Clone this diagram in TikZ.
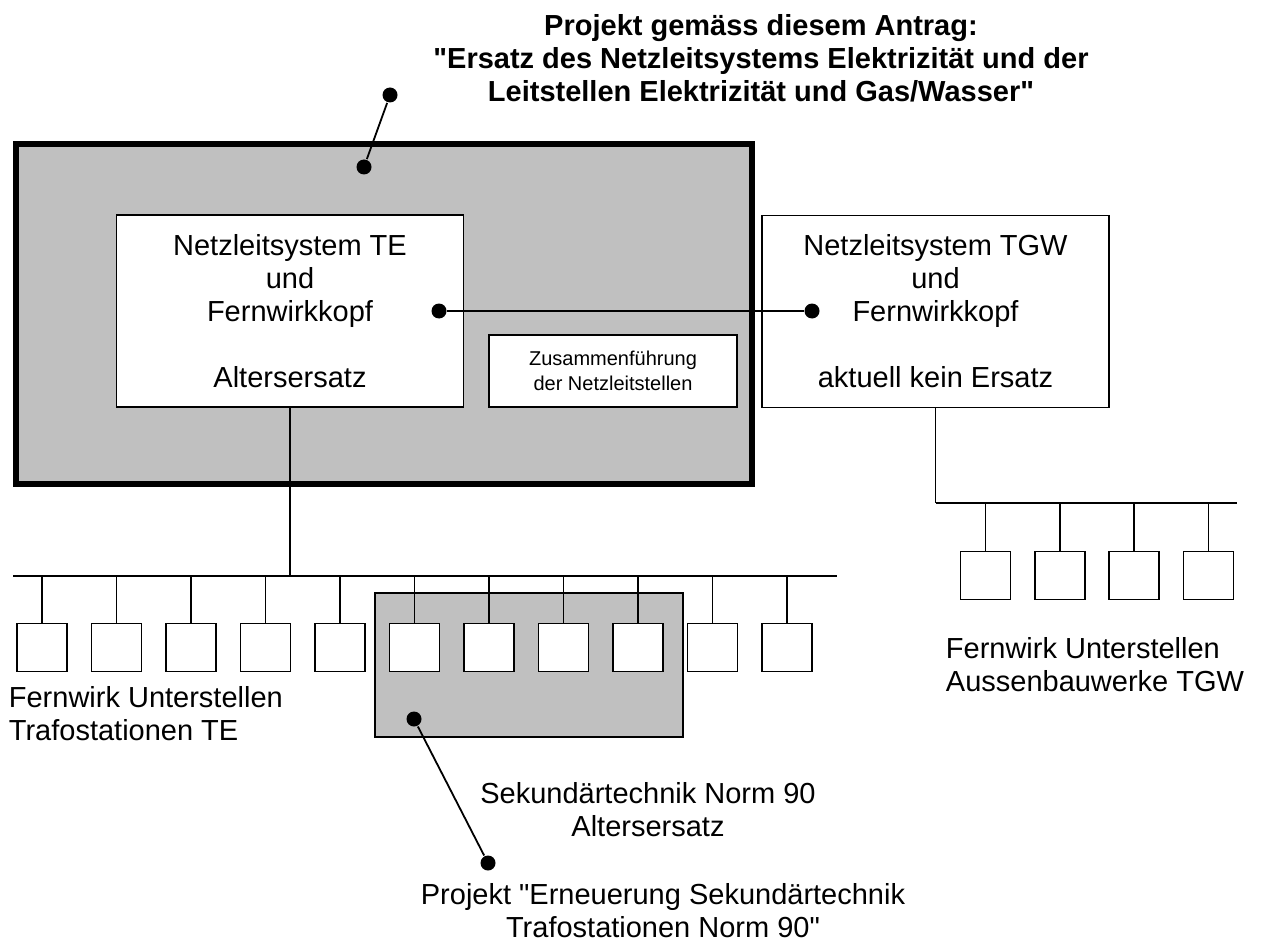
\documentclass[tikz,border=0pt]{standalone}
\usepackage{fontspec}
\setmainfont{Liberation Sans}
\usetikzlibrary{calc}
\definecolor{panelgray}{RGB}{192,192,192}

\begin{document}
\begin{tikzpicture}[x=0.5pt, y=-0.5pt, line width=0.9pt,
    txt/.style={font=\fontsize{14.5}{16.5}\selectfont, align=center, inner sep=0pt},
    smalltxt/.style={font=\fontsize{10}{12.5}\selectfont, align=center, inner sep=0pt},
    sysbox/.style={draw, fill=white, inner sep=0pt, minimum width=173.5pt, minimum height=96pt},
    station/.style={draw, fill=white, inner sep=0pt, minimum width=25pt, minimum height=24pt},
    pin/.style={circle, fill=black, inner sep=0pt, minimum size=7.5pt}]
    \useasboundingbox[fill=white] (0,0) rectangle (1263,941);

    % the grey panels
    \filldraw[fill=panelgray, line width=3pt] (16,144) rectangle (752,484);
    \filldraw[fill=panelgray] (375,593) rectangle (683,737);

    % the buses (drawn first, the boxes go on top)
    \coordinate (busTE) at (13,576);
    \coordinate (busTEend) at (837,576);
    \draw[line width=1.1pt] (busTE) -- (busTEend);
    \coordinate (busTGW) at (935.5,503);
    \coordinate (busTGWend) at (1237,503);

    % the control systems
    \node[sysbox, txt] (te) at (290,311) {Netzleitsystem TE\\und\\Fernwirkkopf\\[16.5pt]Altersersatz};
    \node[sysbox, txt] (tgw) at (935.5,311.5) {Netzleitsystem TGW\\und\\Fernwirkkopf\\[16.5pt]aktuell kein Ersatz};
    \node[draw, fill=white, smalltxt, minimum width=124pt, minimum height=36pt] (merge) at (613,371) {Zusammenführung\\der Netzleitstellen};

    \draw (te.south) -- (te.south |- busTE);
    \draw (tgw.south) -- (busTGW);
    \draw[line width=1.1pt] (busTGW) -- (busTGWend);

    % the stations (11 for TE, 4 for TGW)
    \foreach \i in {0,...,10} {
        \node[station] (s\i) at ({42+74.5*\i},647.5) {};
        \draw (s\i.north) -- (s\i.north |- busTE);
    }
    \foreach \i in {0,...,3} {
        \node[station] (r\i) at ({985.5+74.3*\i},575.5) {};
        \draw (r\i.north) -- (r\i.north |- busTGW);
    }

    % link between the two heads
    \node[pin] (tehead) at (439,311) {};
    \node[pin] (tgwhead) at (812,311) {};
    \draw (tehead) -- (tgwhead);

    % the texts
    \node[txt, font=\bfseries\fontsize{14.5}{16.5}\selectfont] (title) at (761,58) {Projekt gemäss diesem Antrag:\\\textquotedbl Ersatz des Netzleitsystems Elektrizität und der\\Leitstellen Elektrizität und Gas/Wasser\textquotedbl};
    \node[txt, align=left, anchor=north west] (telabel) at (8,686) {Fernwirk Unterstellen\\Trafostationen TE};
    \node[txt, align=left, anchor=north west] (tgwlabel) at (945,637) {Fernwirk Unterstellen\\Aussenbauwerke TGW};
    \node[txt, anchor=north] (normlabel) at (648,782) {Sekundärtechnik Norm 90\\Altersersatz};
    \node[txt, anchor=north] (erneulabel) at (663,883) {Projekt \textquotedbl Erneuerung Sekundärtechnik\\Trafostationen Norm 90\textquotedbl};

    % the pointers
    \node[pin] (titlepin) at (390,95) {};
    \node[pin] (panelpin) at (364,167) {};
    \draw (titlepin) -- (panelpin);
    \node[pin] (normpin) at (414,719) {};
    \node[pin] (erneupin) at (488,863) {};
    \draw (normpin) -- (erneupin);
\end{tikzpicture}
\end{document}
